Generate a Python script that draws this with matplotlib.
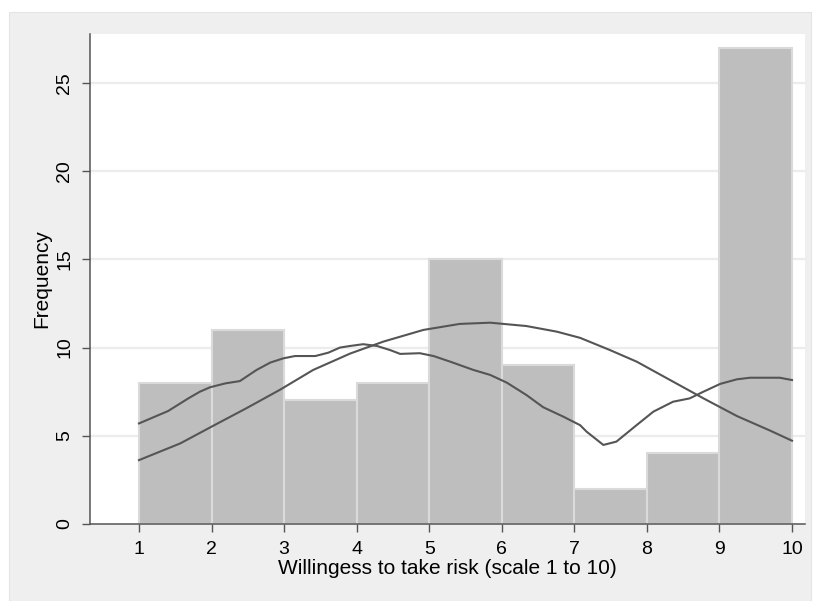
import matplotlib
matplotlib.use("Agg")
import matplotlib.pyplot as plt
from matplotlib.patches import Rectangle

plt.rcParams['font.family'] = ['Liberation Sans', 'DejaVu Sans']

# Histogram data (bins of width 1 from 1 to 10)
bin_left = [1, 2, 3, 4, 5, 6, 7, 8, 9]
counts = [8, 11, 7, 8, 15, 9, 2, 4, 27]

# Normal density overlay
normal_x = [1.0, 1.57, 2.02, 2.48, 2.94, 3.40, 3.91, 4.37, 4.92, 5.42, 5.84,
            6.34, 6.76, 7.08, 7.49, 7.86, 8.32, 8.78, 9.24, 9.70, 10.0]
normal_y = [3.62, 4.57, 5.56, 6.56, 7.60, 8.73, 9.66, 10.34, 11.0, 11.34, 11.41,
            11.22, 10.9, 10.55, 9.86, 9.20, 8.16, 7.12, 6.12, 5.29, 4.72]

# Kernel density overlay
kde_x = [1.0, 1.40, 1.68, 1.84, 1.98, 2.19, 2.39, 2.62, 2.81, 2.99, 3.15, 3.43,
         3.61, 3.77, 3.91, 4.09, 4.28, 4.46, 4.60, 4.87, 5.06, 5.29, 5.61, 5.84,
         6.07, 6.34, 6.57, 6.85, 7.08, 7.17, 7.40, 7.58, 7.86, 8.09, 8.36, 8.59,
         8.78, 9.01, 9.24, 9.42, 9.83, 10.0]
kde_y = [5.70, 6.40, 7.12, 7.50, 7.75, 7.97, 8.10, 8.73, 9.15, 9.39, 9.52, 9.52,
         9.71, 10.0, 10.09, 10.19, 10.09, 9.86, 9.64, 9.68, 9.52, 9.20, 8.73, 8.45,
         8.01, 7.31, 6.62, 6.08, 5.60, 5.23, 4.48, 4.67, 5.61, 6.37, 6.93, 7.12,
         7.50, 7.94, 8.20, 8.29, 8.29, 8.16]

x_ticks = [1, 2, 3, 4, 5, 6, 7, 8, 9, 10]
y_ticks = [0, 5, 10, 15, 20, 25]

W, H = 817, 601
fig = plt.figure(figsize=(W / 100, H / 100), dpi=100)
fig.patch.set_facecolor('white')
panel = Rectangle((9 / W, 0), (811 - 9) / W, (H - 12) / H,
                  transform=fig.transFigure, facecolor='#efefef',
                  edgecolor='#e4e4e4', linewidth=0.8, zorder=-10)
fig.add_artist(panel)

ax = fig.add_axes([90 / W, 1 - 524 / H, (805 - 90) / W, (524 - 33.5) / H])
ax.set_zorder(5)
ax.set_facecolor('white')
ax.set_xlim(0.325, 10.179)
ax.set_ylim(0, 27.8)

for y in y_ticks[1:]:
    ax.axhline(y, color='#ececec', linewidth=1.6, zorder=1)

ax.bar(bin_left, counts, width=1.0, align='edge', color='#bebebe',
       edgecolor='#dadada', linewidth=1.5, zorder=2)

ax.plot(normal_x, normal_y, color='#555555', linewidth=1.5, zorder=3)
ax.plot(kde_x, kde_y, color='#555555', linewidth=1.5, zorder=3)

for s in ['top', 'right']:
    ax.spines[s].set_visible(False)
for s in ['left', 'bottom']:
    ax.spines[s].set_color('#555555')
    ax.spines[s].set_linewidth(1.1)

ax.set_xticks(x_ticks)
ax.set_yticks(y_ticks)
ax.set_yticklabels([str(v) for v in y_ticks], rotation=90, va='center')
ax.tick_params(axis='both', direction='out', length=6, width=1.0,
               color='#555555', labelsize=14, labelcolor='black', pad=6)

ax.set_xlabel('Willingess to take risk (scale 1 to 10)', fontsize=15,
              labelpad=1)
ax.set_ylabel('Frequency', fontsize=15, labelpad=4)

fig.savefig('out.png', dpi=100, facecolor=fig.get_facecolor())
